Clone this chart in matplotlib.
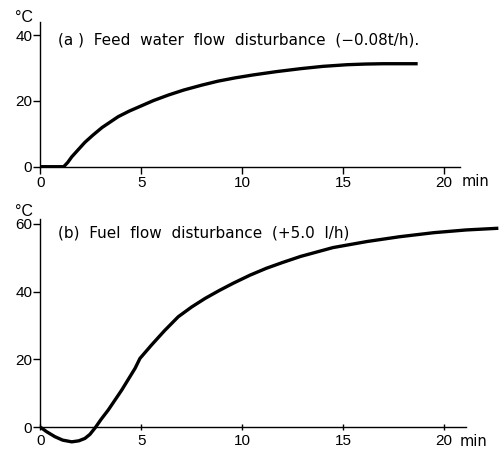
import matplotlib
matplotlib.use("Agg")
import matplotlib.pyplot as plt

plt.rcParams['font.family'] = ['Liberation Sans', 'DejaVu Sans']
plt.rcParams['font.size'] = 10

# (a) feed water flow disturbance response
time_a = [0, 1.15, 1.35, 1.55, 2.2, 2.6, 3.05, 3.85, 4.4, 5.0, 5.6, 6.35, 7.1, 8.0,
          8.8, 9.65, 10.55, 11.7, 12.9, 14.0, 15.2, 16.1, 17.0, 18.7]
temp_a = [0, 0, 1.3, 3.0, 7.4, 9.6, 11.9, 15.2, 16.9, 18.5, 20.1, 21.8, 23.3, 24.8,
          26.0, 27.0, 27.9, 28.9, 29.8, 30.5, 31.0, 31.2, 31.3, 31.3]

# (b) fuel flow disturbance response
time_b = [0, 0.3, 0.72, 1.1, 1.55, 1.9, 2.2, 2.45, 2.73, 3.0, 3.36, 4.03, 4.69, 4.93,
          5.51, 6.15, 6.83, 7.5, 8.16, 8.85, 9.56, 10.4, 11.2, 12.0, 12.9, 14.5,
          16.2, 17.8, 19.5, 21.1, 22.7]
temp_b = [0, -1.3, -2.8, -3.8, -4.3, -4.0, -3.3, -2.1, 0, 2.3, 5.1, 11.0, 17.4, 20.3,
          24.3, 28.5, 32.6, 35.5, 38.0, 40.3, 42.5, 44.9, 46.9, 48.6, 50.4, 53.0,
          54.8, 56.2, 57.4, 58.2, 58.7]

xticks = [0, 5, 10, 15, 20]
yticks_a = [0, 20, 40]
yticks_b = [0, 20, 40, 60]

title_a = "(a )  Feed  water  flow  disturbance  (\u22120.08t/h)."
title_b = "(b)  Fuel  flow  disturbance  (+5.0  l/h)"

W, H = 502, 450
fig = plt.figure(figsize=(W / 100, H / 100), dpi=100)

def px(x, y):
    return x / W, 1 - y / H

ax_a = fig.add_axes([40.5 / W, 1 - 166.7 / H, 22.9 * 20.17 / W, 44 * 3.29 / H])
ax_b = fig.add_axes([40.5 / W, 1 - 445.9 / H, 22.9 * 20.17 / W, 66.8 * 3.39 / H])

ax_a.plot(time_a, temp_a, color="black", lw=2.4, solid_capstyle="butt")
ax_b.plot(time_b, temp_b, color="black", lw=2.4, solid_capstyle="butt")

for ax, yt, ylim, xend, xdir in [(ax_a, yticks_a, (0, 44), 20.8, "out"),
                                 (ax_b, yticks_b, (-5.5, 61.3), 21.1, "inout")]:
    ax.set_xlim(0, 22.9)
    ax.set_ylim(*ylim)
    ax.spines['top'].set_visible(False)
    ax.spines['right'].set_visible(False)
    ax.spines['bottom'].set_position(('data', 0))
    ax.spines['bottom'].set_bounds(0, xend)
    ax.spines['left'].set_bounds(0, ylim[1])
    for s in ('bottom', 'left'):
        ax.spines[s].set_linewidth(1.0)
    ax.set_xticks(xticks)
    ax.set_yticks(yt)
    ax.tick_params(axis='x', direction=xdir, length=5, width=1, pad=2, labelsize=11)
    ax.tick_params(axis='y', direction='out', length=5, width=1, pad=1, labelsize=11)
    ax.patch.set_visible(False)

title_font = ['DejaVu Sans']
fig.text(*px(58, 40), title_a, fontsize=11, va="center", ha="left", family=title_font)
fig.text(*px(58, 233), title_b, fontsize=11, va="center", ha="left", family=title_font)

fig.text(*px(15, 18), "\u00b0C", fontsize=11.5, va="center", ha="left")
fig.text(*px(15, 211), "\u00b0C", fontsize=11.5, va="center", ha="left")
fig.text(*px(462, 182), "min", fontsize=10.5, va="center", ha="left", family=title_font)
fig.text(*px(460, 442), "min", fontsize=10.5, va="center", ha="left", family=title_font)

fig.savefig("out.png", dpi=100)
